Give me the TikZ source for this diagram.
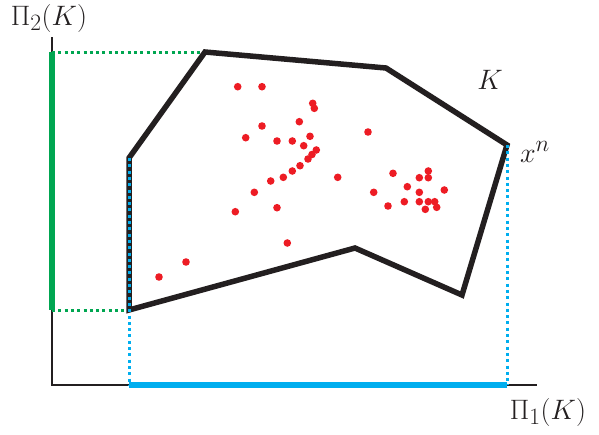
\documentclass[tikz,border=0pt]{standalone}
\usepackage{tikz}
\definecolor{negroLinea}{HTML}{231F20}
\definecolor{rojoPunto}{HTML}{ED1C24}
\definecolor{verdeProy}{HTML}{00A651}
\definecolor{azulProy}{HTML}{00AEEF}

\begin{document}
\begin{tikzpicture}[x=1pt, y=-1pt,
    every node/.style={font=\Huge, scale=1.13, text=negroLinea},
    puntoteado/.style={line width=3pt, dash pattern=on 3pt off 3.3pt}]

  \useasboundingbox (0,0) rectangle (599,434);

  \def\XO{52}    % x del eje vertical
  \def\YO{385}   % y del eje horizontal
  \def\XI{129}   % extremo izquierdo de K
  \def\XD{507}   % extremo derecho de K (x^n)
  \def\YA{52}    % punto más alto de K
  \def\YB{310}   % punto más bajo de K

  % ── Vértices del conjunto K ───────────────────────────────
  \coordinate (v1) at (\XI,158);
  \coordinate (v2) at (205,\YA);
  \coordinate (v3) at (386,68);
  \coordinate (xn) at (\XD,145);
  \coordinate (v5) at (462,295);
  \coordinate (v6) at (355,248);
  \coordinate (v7) at (\XI,\YB);

  % ── Ejes ──────────────────────────────────────────────────
  \draw[negroLinea, line width=2.8pt]
    (\XO,37) -- (\XO,\YO) -- (537,\YO);

  % ── Proyección sobre el eje 2 (verde) ─────────────────────
  \draw[verdeProy, line width=5.5pt] (\XO,\YA) -- (\XO,\YB);
  \draw[verdeProy, puntoteado] (\XO,\YA) -- (v2);
  \draw[verdeProy, puntoteado] (\XO,\YB) -- (v7);

  % ── Conjunto K ────────────────────────────────────────────
  \draw[negroLinea, line width=5.5pt, line join=miter]
    (v1) -- (v2) -- (v3) -- (xn) -- (v5) -- (v6) -- (v7) -- cycle;

  % ── Proyección sobre el eje 1 (azul) ──────────────────────
  \draw[azulProy, line width=6pt] (\XI,\YO) -- (\XD,\YO);
  \draw[azulProy, puntoteado] (v1) -- (\XI,\YO);
  \draw[azulProy, puntoteado] (xn) -- (\XD,\YO);

  % ── Puntos muestrales ─────────────────────────────────────
  \foreach \x/\y in {
      237.7/86.7, 262/86.7, 312.7/103.3, 314.3/108.3, 299.3/121.7,
      262/126, 368/132, 245.7/137.7, 277/141, 292.3/141,
      310/136.3, 303.7/145.7, 316.3/150, 312/154.5, 308/159,
      300/165.7, 292.3/171, 283.3/177.3, 270.7/181, 254.3/192.3,
      337.7/177.3, 373.7/192.3, 235.3/211.7, 277/207.7, 287.3/243,
      159/277, 186/262,
      393/173.3, 428.3/171, 419.3/177.7, 428.3/177.7, 407.3/186.7,
      444.3/190, 419.3/192.3, 388/206, 404.3/201.7, 419.3/201.7,
      428.3/201.7, 434.7/201.7, 425.3/209.3, 436.7/207.3}{
    \fill[rojoPunto] (\x,\y) circle (3.8pt);
  }

  % ── Etiquetas ─────────────────────────────────────────────
  \node (pi2) at (49,18) {$\Pi_2(K)$};
  \node (pi1) at (548,412) {$\Pi_1(K)$};
  \node (conjK) at (490,80) {$K$};
  \node[anchor=west] (etqxn) at (516,152) {$x^n$};

\end{tikzpicture}
\end{document}
